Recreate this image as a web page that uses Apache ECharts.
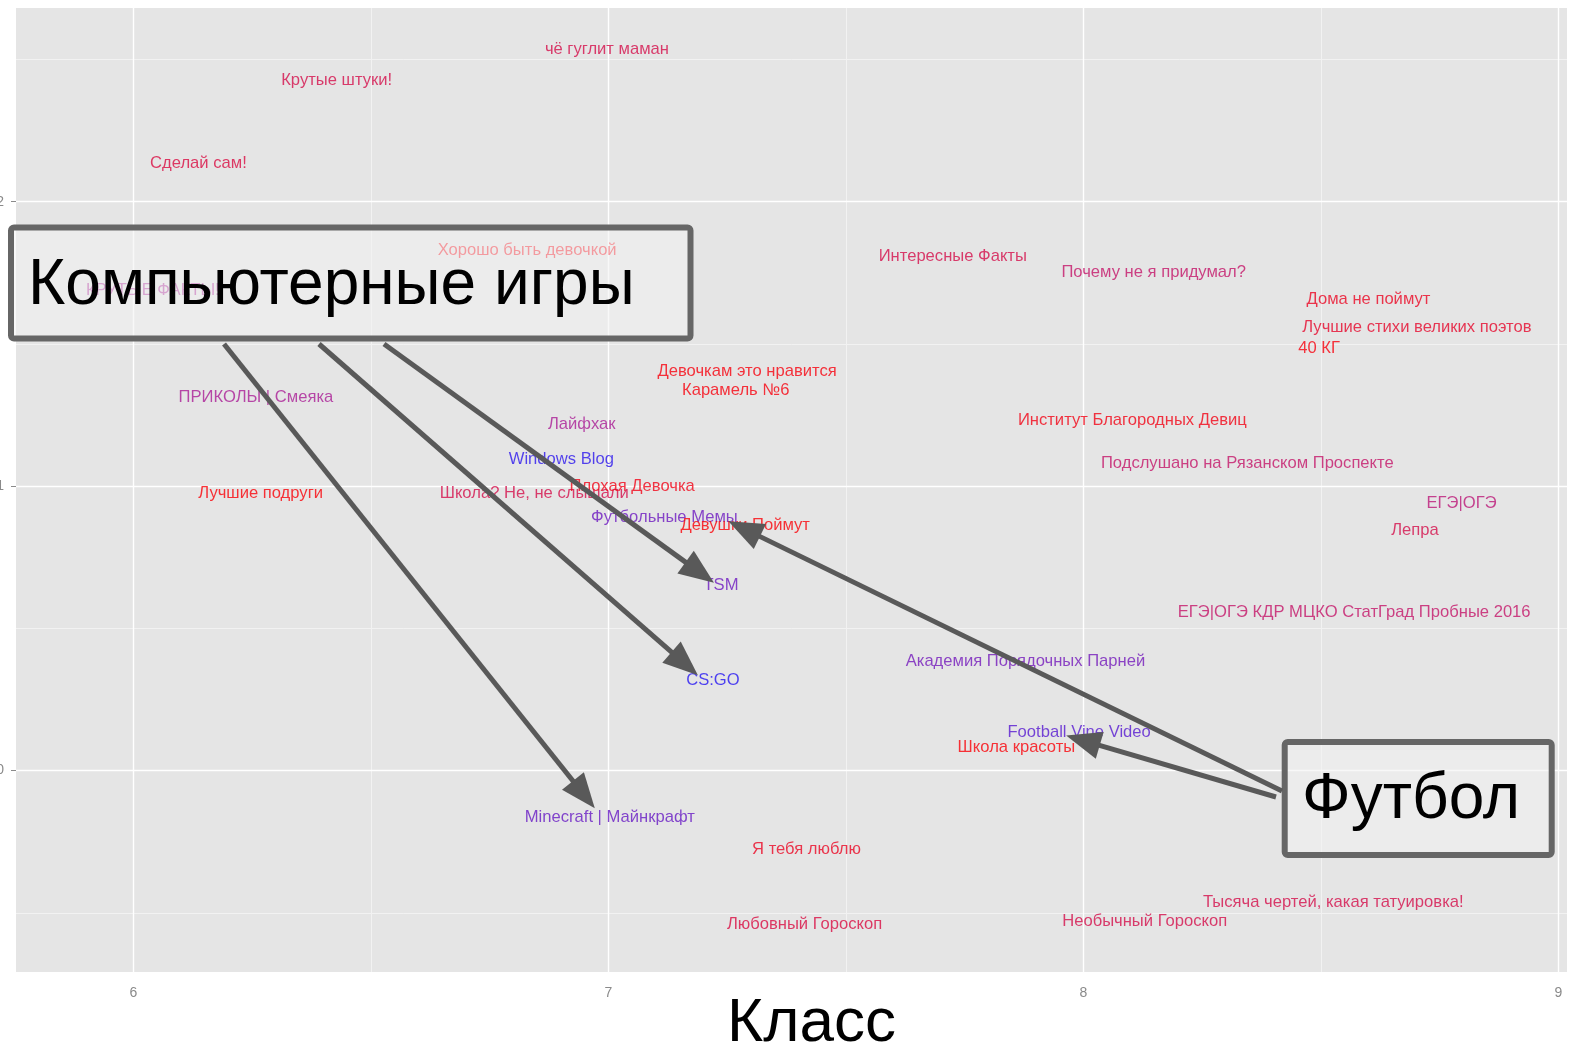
<!DOCTYPE html>
<html>
<head>
<meta charset="utf-8">
<title>Паблики по классам</title>
<script src="https://cdn.jsdelivr.net/npm/echarts@6/dist/echarts.min.js"></script>
<style>
  html, body { margin: 0; padding: 0; background: #ffffff; }
  #chart { width: 1585px; height: 1049px; }
</style>
</head>
<body>
<div id="chart"></div>
<script>
// Community names, the school class of their typical audience, a score,
// and the share of girls among the audience (drives the label colour).
const publicNames = [
  'чё гуглит маман', 'Крутые штуки!', 'Сделай сам!', 'Хорошо быть девочкой', 'КРУТЫЕ ФАКТЫ!',
  'Интересные Факты', 'Почему не я придумал?', 'Дома не поймут', 'Лучшие стихи великих поэтов', '40 КГ',
  'Девочкам это нравится', 'Карамель №6', 'ПРИКОЛЫ | Смеяка', 'Лайфхак', 'Институт Благородных Девиц',
  'Windows Blog', 'Подслушано на Рязанском Проспекте', 'Лучшие подруги', 'Школа? Не, не слышали', 'Плохая Девочка',
  'Футбольные Мемы', 'Девушки Поймут', 'ЕГЭ|ОГЭ', 'Лепра', 'TSM',
  'ЕГЭ|ОГЭ КДР МЦКО СтатГрад Пробные 2016', 'Академия Порядочных Парней', 'CS:GO', 'Football Vine Video', 'Школа красоты',
  'Minecraft | Майнкрафт', 'Я тебя люблю', 'Тысяча чертей, какая татуировка!', 'Любовный Гороскоп', 'Необычный Гороскоп'
];
const classValues = [
  6.997, 6.428, 6.137, 6.829, 6.041,
  7.725, 8.148, 8.600, 8.702, 8.496,
  7.292, 7.268, 6.258, 6.944, 8.103,
  6.901, 8.345, 6.268, 6.844, 7.050,
  7.118, 7.288, 8.796, 8.698, 7.237,
  8.570, 7.878, 7.220, 7.991, 7.859,
  7.003, 7.417, 8.526, 7.413, 8.129
];
const scoreValues = [
  0.2534, 0.2428, 0.2134, 0.1829, 0.1688,
  0.1808, 0.1752, 0.1656, 0.1557, 0.1483,
  0.1405, 0.1337, 0.1313, 0.1217, 0.1231,
  0.1093, 0.1079, 0.0973, 0.0973, 0.0998,
  0.0891, 0.0863, 0.0941, 0.0845, 0.0650,
  0.0555, 0.0385, 0.0318, 0.0134, 0.0081,
  -0.0164, -0.0277, -0.0465, -0.0539, -0.0529
];
const girlShare = [
  0.75, 0.75, 0.78, 0.95, 0.5,
  0.75, 0.65, 0.88, 0.85, 0.95,
  0.95, 0.95, 0.5, 0.5, 0.93,
  0.08, 0.65, 0.97, 0.75, 0.92,
  0.3, 0.97, 0.6, 0.75, 0.3,
  0.65, 0.32, 0.06, 0.22, 0.97,
  0.28, 0.88, 0.75, 0.78, 0.75
];
const xTicks = [6, 7, 8, 9];
const xMinorTicks = [6.5, 7.5, 8.5];
const yTicks = [0, 0.1, 0.2];
const yMinorTicks = [-0.05, 0.05, 0.15, 0.25];

// Annotation groups: caption and the communities it points to.
const gamesTargets = ['Minecraft | Майнкрафт', 'CS:GO', 'TSM'];
const footballTargets = ['Футбольные Мемы', 'Football Vine Video'];

// Colour ramp for the share of girls: blue -> magenta -> red.
const rampStops = [
  [0.0, [20, 20, 255]],
  [0.5, [170, 30, 150]],
  [1.0, [255, 0, 0]]
];
function rampColor(t) {
  for (let i = 1; i < rampStops.length; i++) {
    const [t1, c1] = rampStops[i];
    const [t0, c0] = rampStops[i - 1];
    if (t <= t1) {
      const k = (t - t0) / (t1 - t0);
      const c = c0.map((v, j) => Math.round(v + (c1[j] - v) * k));
      return 'rgb(' + c.join(',') + ')';
    }
  }
  return 'rgb(255,0,0)';
}

const chart = echarts.init(document.getElementById('chart'), null, { renderer: 'canvas' });

const labelPoints = publicNames.map((name, i) => ({
  name: name,
  value: [classValues[i], scoreValues[i]],
  label: { color: rampColor(girlShare[i]) }
}));

const gridLine = (axisKey, v, color, width) => ({
  [axisKey]: v,
  lineStyle: { color: color, width: width, type: 'solid' }
});

const option = {
  animation: false,
  backgroundColor: '#ffffff',
  grid: {
    left: 16, right: 18, top: 8, bottom: 77,
    containLabel: false,
    outerBoundsMode: 'none',
    show: true,
    backgroundColor: '#e5e5e5',
    borderWidth: 0
  },
  xAxis: {
    type: 'value',
    min: 5.753,
    max: 9.018,
    name: 'Класс',
    nameLocation: 'middle',
    nameGap: 21,
    nameMoveOverlap: false,
    nameTextStyle: {
      fontFamily: '"Liberation Sans", Arial, sans-serif',
      fontSize: 62,
      color: '#000000',
      padding: [0, 0, 0, 40]
    },
    axisLine: { show: false },
    axisTick: { show: true, length: 5, customValues: xTicks, lineStyle: { color: '#8a8a8a', width: 1 } },
    axisLabel: {
      customValues: xTicks,
      margin: 14,
      fontSize: 14,
      color: '#8a8a8a',
      fontFamily: '"Liberation Sans", Arial, sans-serif'
    },
    splitLine: { show: false },
    minorSplitLine: { show: false }
  },
  yAxis: {
    type: 'value',
    min: -0.0708,
    max: 0.2681,
    axisLine: { show: false },
    axisTick: { show: true, length: 5, customValues: yTicks, lineStyle: { color: '#8a8a8a', width: 1 } },
    axisLabel: {
      customValues: yTicks,
      margin: 12,
      fontSize: 14,
      color: '#8a8a8a',
      fontFamily: '"Liberation Sans", Arial, sans-serif',
      formatter: v => v.toFixed(1)
    },
    splitLine: { show: false },
    minorSplitLine: { show: false }
  },
  series: [
    {
      // panel grid lines
      type: 'scatter',
      data: [],
      z: 1,
      silent: true,
      markLine: {
        silent: true,
        symbol: ['none', 'none'],
        label: { show: false },
        emphasis: { disabled: true },
        data: [
          ...xMinorTicks.map(v => gridLine('xAxis', v, '#f2f2f2', 1)),
          ...yMinorTicks.map(v => gridLine('yAxis', v, '#f2f2f2', 1)),
          ...xTicks.map(v => gridLine('xAxis', v, '#ffffff', 1.4)),
          ...yTicks.map(v => gridLine('yAxis', v, '#ffffff', 1.4))
        ]
      }
    },
    {
      type: 'scatter',
      z: 5,
      symbolSize: 1,
      itemStyle: { color: 'rgba(0,0,0,0)' },
      data: labelPoints,
      label: {
        show: true,
        position: 'inside',
        formatter: p => p.name,
        fontSize: 16.6,
        fontFamily: '"Liberation Sans", Arial, sans-serif',
        align: 'center',
        verticalAlign: 'middle'
      },
      emphasis: { disabled: true }
    }
  ]
};

chart.setOption(option);

// Callout boxes with arrows pointing at individual communities.
const ARROW_COLOR = '#595959';
const HEAD_LEN = 35;
const HEAD_HALF = 14;

function arrow(start, tip) {
  const dx = tip[0] - start[0];
  const dy = tip[1] - start[1];
  const len = Math.hypot(dx, dy);
  const ux = dx / len, uy = dy / len;
  const bx = tip[0] - ux * HEAD_LEN, by = tip[1] - uy * HEAD_LEN;
  const nx = -uy, ny = ux;
  return [
    {
      type: 'line', z: 120, silent: true,
      shape: { x1: start[0], y1: start[1], x2: bx + ux * 2, y2: by + uy * 2 },
      style: { stroke: ARROW_COLOR, lineWidth: 5, lineCap: 'butt' }
    },
    {
      type: 'polygon', z: 121, silent: true,
      shape: { points: [tip, [bx + nx * HEAD_HALF, by + ny * HEAD_HALF], [bx - nx * HEAD_HALF, by - ny * HEAD_HALF]] },
      style: { fill: ARROW_COLOR }
    }
  ];
}

function pointOf(name, offset) {
  const i = publicNames.indexOf(name);
  const p = chart.convertToPixel({ gridIndex: 0 }, [classValues[i], scoreValues[i]]);
  return [p[0] + offset[0], p[1] + offset[1]];
}

function calloutBox(x, y, w, h, caption, textX, textY) {
  return [
    {
      type: 'rect', z: 110, silent: true,
      shape: { x: x, y: y, width: w, height: h, r: 3 },
      style: { fill: 'rgba(242,242,242,0.55)', stroke: '#666666', lineWidth: 6 }
    },
    {
      type: 'text', z: 111, silent: true,
      x: textX, y: textY,
      style: {
        text: caption,
        fill: '#000000',
        fontSize: 64,
        fontFamily: '"Liberation Sans", Arial, sans-serif',
        align: 'left',
        verticalAlign: 'middle'
      }
    }
  ];
}

const gamesOffsets = [[-15, -9], [-15, -5], [-7, -3]];
const gamesStarts = [[224, 344], [319, 344], [384, 344]];
const footballOffsets = [[64, 4], [-13, 3]];
const footballStarts = [[1282, 791], [1276, 797]];

const elements = [
  ...calloutBox(11, 227.5, 679.5, 111, 'Компьютерные игры', 28, 286),
  ...calloutBox(1284.7, 742, 267, 113, 'Футбол', 1302, 800)
];
gamesTargets.forEach((name, k) => {
  elements.push(...arrow(gamesStarts[k], pointOf(name, gamesOffsets[k])));
});
footballTargets.forEach((name, k) => {
  elements.push(...arrow(footballStarts[k], pointOf(name, footballOffsets[k])));
});

chart.setOption({ graphic: { elements: elements } });
</script>
</body>
</html>
